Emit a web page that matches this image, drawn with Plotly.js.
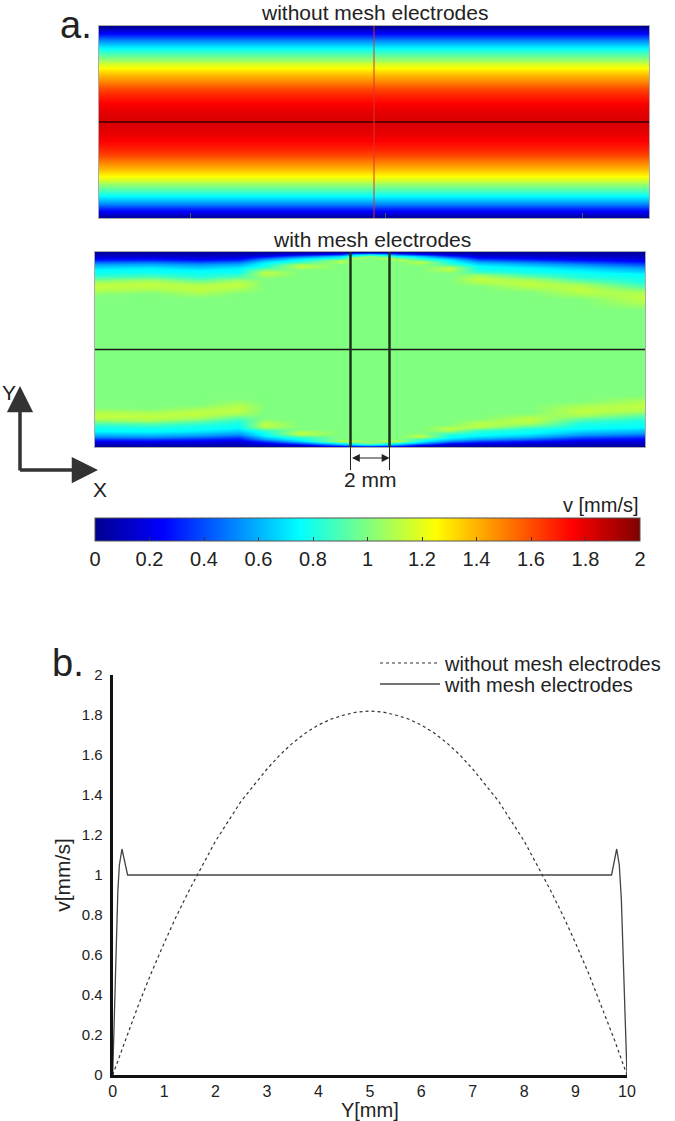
<!DOCTYPE html>
<html>
<head>
<meta charset="utf-8">
<script src="https://cdn.plot.ly/plotly-3.0.1.min.js"></script>
<style>html,body{margin:0;padding:0;background:#fff;}#chart{width:675px;height:1121px;}</style>
</head>
<body>
<div id="chart"></div>
<script>
// ---------- panel b: velocity profiles across the channel ----------
const posNoMesh = [0,0.25,0.5,0.75,1,1.25,1.5,1.75,2,2.25,2.5,2.75,3,3.25,3.5,3.75,4,4.25,4.5,4.75,5,
                   5.25,5.5,5.75,6,6.25,6.5,6.75,7,7.25,7.5,7.75,8,8.25,8.5,8.75,9,9.25,9.5,9.75,10];
const vNoMesh   = [0,0.18,0.35,0.51,0.66,0.80,0.93,1.05,1.17,1.27,1.37,1.45,1.53,1.60,1.66,1.71,1.75,1.78,1.80,1.815,1.82,
                   1.815,1.80,1.78,1.75,1.71,1.66,1.60,1.53,1.45,1.37,1.27,1.17,1.05,0.93,0.80,0.66,0.51,0.35,0.18,0];
const posMesh = [0,0.05,0.1,0.13,0.18,0.29,9.7,9.8,9.85,9.89,10];
const vMesh   = [0,0.5,0.92,1.05,1.13,1.0,1.0,1.13,1.05,0.88,0];

// ---------- panel a: with-mesh map, wall layer read along the channel ----------
const xStations   = [-14.1,-11.3,-8.7,-6.7,-5.4,-3.6,-1.5,-0.8,0,0.8,1.5,2.6,4.1,5.6,8.2,10.8,14.1]; // mm
const topLayerMm  = [1.95,1.85,2.05,1.85,1.18,0.77,0.51,0.31,0.26,0.31,0.41,0.56,0.92,1.54,1.79,2.10,2.56];
const botLayerMm  = [1.79,1.74,1.90,2.15,1.28,0.77,0.36,0.31,0.26,0.31,0.36,0.62,1.03,1.28,1.54,2.05,2.31];
const wallU = [0,0.1,0.2,0.3,0.45,0.6,0.7,0.8,0.9,1.0,1.15];
const wallV = [0.03,0.12,0.3,0.55,0.75,0.8,0.92,1.08,1.13,1.1,1.0];
const electrodes = [-1, 1];       // mm
const cbTicks = [0,0.2,0.4,0.6,0.8,1,1.2,1.4,1.6,1.8,2];

const FONT = 'Liberation Sans, Arial, Helvetica, sans-serif';
const jet = [[0,'#00008f'],[0.125,'#0000ff'],[0.375,'#00ffff'],[0.625,'#ffff00'],[0.875,'#ff0000'],[1,'#800000']];

function profileAt(u){
  if (u >= wallU[wallU.length-1]) return wallV[wallV.length-1];
  for (let i=1;i<wallU.length;i++){
    if (u <= wallU[i]){
      const t=(u-wallU[i-1])/(wallU[i]-wallU[i-1]);
      return wallV[i-1]+t*(wallV[i]-wallV[i-1]);
    }
  }
  return 1;
}
const yGrid = Array.from({length:101},(_,i)=>i/10);
const zMesh = yGrid.map(y => xStations.map((x,j)=>
  y <= 5 ? profileAt(y/botLayerMm[j]) : profileAt((10-y)/topLayerMm[j])));
const zNoMesh = vNoMesh.map(v=>[v,v]);

const W=675,H=1121;
const px = v=>v/W, py = v=>1-v/H;

const traces = [
  {type:'heatmap', x:[-14.1,14.1], y:posNoMesh, z:zNoMesh, zsmooth:'best', coloraxis:'coloraxis',
   xaxis:'x', yaxis:'y', hoverinfo:'skip', showlegend:false},
  {type:'heatmap', x:xStations, y:yGrid, z:zMesh, zsmooth:'best', coloraxis:'coloraxis',
   xaxis:'x2', yaxis:'y2', hoverinfo:'skip', showlegend:false},
  {type:'scatter', mode:'lines', x:posNoMesh, y:vNoMesh, name:'without mesh electrodes', legend:'legend',
   line:{color:'#333', width:1.2, dash:'dot'}, xaxis:'x3', yaxis:'y3'},
  {type:'scatter', mode:'lines', x:posMesh, y:vMesh, name:'with mesh electrodes', legend:'legend2',
   line:{color:'#444', width:1.3}, xaxis:'x3', yaxis:'y3'}
];

const hmAxis = (d)=>({domain:d, showgrid:false, zeroline:false, showticklabels:false, ticks:'',
  showline:true, mirror:true, linecolor:'#aaa', linewidth:1, fixedrange:true});

const shapes = [];
shapes.push({type:'line', xref:'x', yref:'y', x0:-14.1, x1:14.1, y0:5, y1:5, line:{color:'#3a0000', width:1.5}});
shapes.push({type:'line', xref:'x', yref:'y', x0:0, x1:0, y0:0, y1:10, line:{color:'#e03030', width:1}});
shapes.push({type:'line', xref:'x2', yref:'y2', x0:-14.1, x1:14.1, y0:5, y1:5, line:{color:'#1a1a1a', width:1.3}});
electrodes.forEach(e=>{
  shapes.push({type:'line', xref:'x2', yref:'y2', x0:e, x1:e, y0:0, y1:10, line:{color:'#1f331f', width:2.5}});
  shapes.push({type:'line', xref:'x2', yref:'paper', x0:e, x1:e, y0:py(447), y1:py(470), line:{color:'#222', width:1}});
});

const txt = (text,x,y,size,extra)=>Object.assign({text, xref:'paper', yref:'paper', x:px(x), y:py(y),
  showarrow:false, xanchor:'center', yanchor:'middle', font:{family:FONT, size, color:'#222'}}, extra||{});

const annotations = [
  txt('a.', 76, 25, 38),
  txt('without mesh electrodes', 374, 12, 21),
  txt('with mesh electrodes', 372, 239, 21),
  txt('2 mm', 370, 479, 21),
  txt('v [mm/s]', 641, 505, 20, {xanchor:'right'}),
  txt('Y', 9, 393, 21),
  txt('X', 100, 489, 21),
  txt('b.', 68, 663, 38),
  {text:'', xref:'paper', yref:'paper', x:px(20), y:py(386), ax:0, ay:86, showarrow:true,
   arrowhead:2, arrowsize:1.5, arrowwidth:3.5, arrowcolor:'#333'},
  {text:'', xref:'paper', yref:'paper', x:px(98), y:py(470), ax:-79.5, ay:0, showarrow:true,
   arrowhead:2, arrowsize:1.5, arrowwidth:3.5, arrowcolor:'#333'},
  {text:'', xref:'x2', yref:'paper', x:electrodes[1], y:py(458), ax:-39, ay:0, showarrow:true,
   arrowhead:2, startarrowhead:2, arrowside:'end+start', arrowsize:1.3, startarrowsize:1.3, arrowwidth:1.2, arrowcolor:'#222'}
];

const legendBase = {xanchor:'left', yanchor:'middle', bgcolor:'rgba(0,0,0,0)',
  font:{family:FONT, size:20, color:'#222'}, itemwidth:60};

const layout = {
  width:W, height:H, margin:{l:0,r:0,t:0,b:0}, paper_bgcolor:'#fff', plot_bgcolor:'#fff',
  font:{family:FONT, color:'#222'},
  coloraxis:{cmin:0, cmax:2, colorscale:jet,
    colorbar:{orientation:'h', x:px(367.5), xanchor:'center', y:py(518), yanchor:'top', yref:'paper',
      len:545, lenmode:'pixels', thickness:23, thicknessmode:'pixels', xpad:0, ypad:0,
      outlinewidth:1, outlinecolor:'#555', ticks:'inside', ticklen:4, tickcolor:'#333',
      tickvals:cbTicks, tickfont:{family:FONT, size:20, color:'#222'}}},
  xaxis:Object.assign(hmAxis([px(99),px(649)]), {range:[-14.1,14.1], anchor:'y', ticks:'inside', ticklen:5, tickcolor:'#555', tickvals:[-9.4,0.6,10.7]}),
  yaxis:Object.assign(hmAxis([py(218),py(26)]), {range:[0,10], anchor:'x'}),
  xaxis2:Object.assign(hmAxis([px(95),px(645)]), {range:[-14.1,14.1], anchor:'y2'}),
  yaxis2:Object.assign(hmAxis([py(447),py(252)]), {range:[0,10], anchor:'x2'}),
  xaxis3:{domain:[px(112.7),px(627)], range:[0,10], anchor:'y3', showgrid:false, zeroline:false,
    showline:true, linewidth:3, linecolor:'#111', ticks:'', ticklabelstandoff:0,
    tickvals:[0,1,2,3,4,5,6,7,8,9,10], tickfont:{family:FONT, size:16, color:'#222'},
    title:{text:'Y[mm]', font:{family:FONT, size:20, color:'#222'}, standoff:1}},
  yaxis3:{domain:[py(1075),py(675)], range:[0,2], anchor:'x3', showgrid:false, zeroline:false,
    showline:true, linewidth:3, linecolor:'#111', ticks:'', ticklabelstandoff:4,
    tickvals:cbTicks, tickfont:{family:FONT, size:15, color:'#222'},
    title:{text:'v[mm/s]', font:{family:FONT, size:21, color:'#222'}, standoff:6}},
  showlegend:true,
  legend:Object.assign({x:px(375), y:py(663)}, legendBase),
  legend2:Object.assign({x:px(375), y:py(684)}, legendBase),
  shapes, annotations
};

Plotly.newPlot('chart', traces, layout, {displayModeBar:false, staticPlot:true});
</script>
</body>
</html>
